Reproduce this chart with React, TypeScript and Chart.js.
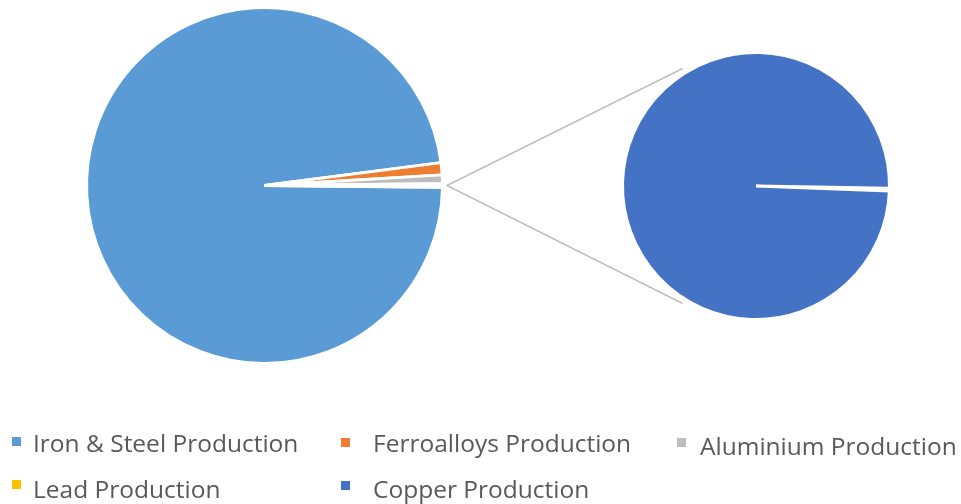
import React, { useEffect, useRef } from "react";
import { Chart, registerables } from "chart.js";

Chart.register(...registerables);

// ---- data ----
const mainCategories = ["Iron & Steel Production", "Ferroalloys Production", "Aluminium Production"];
const mainValues = [97.8, 1.1, 0.8];
const mainColors = ["#5B9BD5", "#ED7D31", "#BDBDBD"];

const secondaryCategories = ["Lead Production", "Copper Production"];
const secondaryValues = [0.001, 0.3];
const secondaryColors = ["#FFC000", "#4472C4"];

const otherLabel = "Other";

// ---- layout (styling only) ----
const W = 961;
const H = 504;
const legendFont = "400 24.5px 'Open Sans', Lato, sans-serif";
const legendTextColor = "#595959";
const legendPositions = [
  { mx: 12, my: 437, tx: 33, ty: 452 },
  { mx: 341, my: 438, tx: 373, ty: 452 },
  { mx: 677, my: 438, tx: 700, ty: 455 },
  { mx: 12, my: 480, tx: 33, ty: 498 },
  { mx: 341, my: 481, tx: 373, ty: 498 },
];

export default function App() {
  const mainRef = useRef<HTMLCanvasElement | null>(null);
  const secRef = useRef<HTMLCanvasElement | null>(null);

  useEffect(() => {
    document.body.style.margin = "0";
    const otherValue = secondaryValues.reduce((a, b) => a + b, 0);
    const mainData = [...mainValues, otherValue];
    const total = mainData.reduce((a, b) => a + b, 0);
    const otherDeg = (otherValue / total) * 360;

    const secChart = new Chart(secRef.current as HTMLCanvasElement, {
      type: "pie",
      data: {
        labels: secondaryCategories,
        datasets: [
          {
            data: secondaryValues,
            backgroundColor: secondaryColors,
            borderColor: "#FFFFFF",
            borderWidth: 3,
            hoverOffset: 0,
          },
        ],
      },
      options: {
        responsive: false,
        animation: false,
        devicePixelRatio: 1,
        events: [],
        rotation: 91,
        layout: { padding: { left: 621, top: 51, right: 70, bottom: 183 } },
        plugins: { legend: { display: false }, tooltip: { enabled: false } },
      },
    });

    const connectorPlugin = {
      id: "connectors",
      afterDatasetsDraw(chart: any) {
        const arc: any = chart.getDatasetMeta(0).data[3];
        const sArc: any = secChart.getDatasetMeta(0).data[0];
        if (!arc || !sArc) return;
        const ctx = chart.ctx;
        const r1 = arc.outerRadius + 4;
        const r2 = sArc.outerRadius + 5;
        const a = (58 * Math.PI) / 180;
        const p1 = [arc.x + r1 * Math.cos(arc.endAngle), arc.y + r1 * Math.sin(arc.endAngle) - 1.5];
        const p2 = [arc.x + r1 * Math.cos(arc.startAngle), arc.y + r1 * Math.sin(arc.startAngle) + 1.5];
        const q1 = [sArc.x - r2 * Math.cos(a), sArc.y - r2 * Math.sin(a)];
        const q2 = [sArc.x - r2 * Math.cos(a), sArc.y + r2 * Math.sin(a)];
        ctx.save();
        ctx.strokeStyle = "#BFBFBF";
        ctx.lineWidth = 1.5;
        ctx.beginPath();
        ctx.moveTo(p1[0], p1[1]);
        ctx.lineTo(q1[0], q1[1]);
        ctx.moveTo(p2[0], p2[1]);
        ctx.lineTo(q2[0], q2[1]);
        ctx.stroke();
        ctx.restore();
      },
    };

    const legendPlugin = {
      id: "gridLegend",
      afterDraw(chart: any) {
        const ctx = chart.ctx;
        const labels = [...mainCategories, ...secondaryCategories];
        const colors = [...mainColors, ...secondaryColors];
        ctx.save();
        ctx.font = legendFont;
        ctx.textBaseline = "alphabetic";
        ctx.textAlign = "left";
        labels.forEach((lab, i) => {
          const p = legendPositions[i];
          ctx.fillStyle = colors[i];
          ctx.fillRect(p.mx, p.my, 9, 9);
          ctx.fillStyle = legendTextColor;
          ctx.fillText(lab, p.tx, p.ty);
        });
        ctx.restore();
      },
    };

    const mainChart = new Chart(mainRef.current as HTMLCanvasElement, {
      type: "pie",
      data: {
        labels: [...mainCategories, otherLabel],
        datasets: [
          {
            data: mainData,
            backgroundColor: [...mainColors, "#FFFFFF"],
            borderColor: "#FFFFFF",
            borderWidth: 3,
            hoverOffset: 0,
          },
        ],
      },
      options: {
        responsive: false,
        animation: false,
        devicePixelRatio: 1,
        events: [],
        rotation: 90 + otherDeg / 2,
        layout: { padding: { left: 85, top: 6, right: 517, bottom: 139 } },
        plugins: { legend: { display: false }, tooltip: { enabled: false } },
      },
      plugins: [connectorPlugin, legendPlugin],
    });

    return () => {
      mainChart.destroy();
      secChart.destroy();
    };
  }, []);

  return (
    <div style={{ position: "fixed", left: 0, top: 0, width: W, height: H, background: "#FFFFFF" }}>
      <canvas
        ref={mainRef}
        width={W}
        height={H}
        style={{ position: "absolute", left: 0, top: 0, width: W, height: H }}
      />
      <canvas
        ref={secRef}
        width={W}
        height={H}
        style={{ position: "absolute", left: 0, top: 0, width: W, height: H, pointerEvents: "none" }}
      />
    </div>
  );
}
